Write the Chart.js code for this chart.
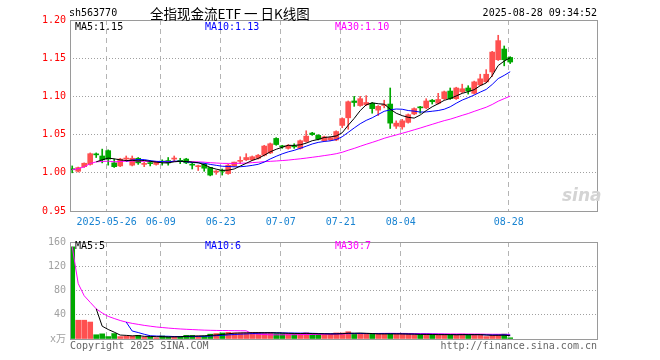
<!DOCTYPE html>
<html>
<head>
<meta charset="utf-8">
<script src="https://cdn.jsdelivr.net/npm/chart.js@4.4.1/dist/chart.umd.min.js"></script>
<style>
  body { margin: 0; width: 660px; height: 360px; background: #fff; position: relative; overflow: hidden; }
  canvas { position: absolute; left: 0; }
  .t { position: absolute; font: 10px/10px "DejaVu Sans Mono", "Noto Sans CJK SC", monospace; white-space: pre; }
</style>
</head>
<body>
<canvas id="kline" width="660" height="232" style="top:0"></canvas>
<canvas id="vol" width="660" height="128" style="top:232px"></canvas>

<div class="t" style="left:69px;top:8px">sh563770</div>
<div class="t" style="left:150px;top:6px;font:13.5px/14px 'Noto Sans CJK SC',sans-serif">全指现金流ETF 一 日K线图</div>
<div class="t" style="right:63px;top:8px">2025-08-28 09:34:52</div>

<div class="t" style="left:75px;top:22px;color:#000">MA5:1.15</div>
<div class="t" style="left:205px;top:22px;color:#0000ff">MA10:1.13</div>
<div class="t" style="left:335px;top:22px;color:#ff00ff">MA30:1.10</div>

<div class="t" style="left:75px;top:241px;color:#000">MA5:5</div>
<div class="t" style="left:205px;top:241px;color:#0000ff">MA10:6</div>
<div class="t" style="left:335px;top:241px;color:#ff00ff">MA30:7</div>

<div class="t" style="left:562px;top:186px;font:italic bold 17px/18px 'DejaVu Sans',sans-serif;color:#d4d4d4">sina</div>

<div class="t" style="left:70px;top:341px;color:#666">Copyright 2025 SINA.COM</div>
<div class="t" style="right:63px;top:341px;color:#666">http://finance.sina.com.cn</div>

<script>
// ---- datos (indice = dia de negociacion, 0 = 2025-05-16) ----
const tickIdx = [6, 15, 25, 35, 45, 55, 73];
const tickLabels = ['2025-05-26', '06-09', '06-23', '07-07', '07-21', '08-04', '08-28'];
const priceTicks = [0.95, 1.00, 1.05, 1.10, 1.15, 1.20];
const volTicks = [0, 40, 80, 120, 160];

const openP = [
  1.005, 1.002, 1.008, 1.011, 1.024, 1.022, 1.029, 1.013, 1.009, 1.018,
  1.010, 1.019, 1.011, 1.013, 1.011, 1.015, 1.016, 1.018, 1.016, 1.018,
  1.011, 1.008, 1.011, 1.007, 1.001, 1.003, 0.999, 1.009, 1.015, 1.017,
  1.017, 1.019, 1.023, 1.026, 1.045, 1.035, 1.032, 1.035, 1.032, 1.041,
  1.052, 1.049, 1.042, 1.043, 1.043, 1.062, 1.072, 1.094, 1.088, 1.089,
  1.091, 1.082, 1.088, 1.090, 1.061, 1.060, 1.066, 1.077, 1.086, 1.085,
  1.095, 1.091, 1.097, 1.107, 1.097, 1.106, 1.111, 1.104, 1.115, 1.119,
  1.132, 1.148, 1.162, 1.151
];
const highP = [
  1.009, 1.0075, 1.013, 1.026, 1.026, 1.031, 1.030, 1.018, 1.019, 1.022,
  1.022, 1.020, 1.014, 1.016, 1.015, 1.017, 1.020, 1.022, 1.019, 1.019,
  1.013, 1.010, 1.012, 1.007, 1.003, 1.005, 1.011, 1.014, 1.021, 1.025,
  1.022, 1.024, 1.036, 1.039, 1.046, 1.036, 1.037, 1.038, 1.043, 1.055,
  1.053, 1.050, 1.048, 1.047, 1.055, 1.072, 1.094, 1.100, 1.100, 1.101,
  1.092, 1.088, 1.095, 1.111, 1.068, 1.070, 1.077, 1.085, 1.087, 1.097,
  1.096, 1.104, 1.107, 1.111, 1.112, 1.116, 1.114, 1.120, 1.129, 1.135,
  1.159, 1.180, 1.166, 1.152
];
const lowP = [
  1.000, 1.001, 1.007, 1.010, 1.020, 1.013, 1.010, 1.007, 1.008, 1.015,
  1.009, 1.011, 1.008, 1.009, 1.010, 1.010, 1.010, 1.015, 1.012, 1.012,
  1.005, 1.003, 1.002, 0.996, 0.998, 0.997, 0.998, 1.008, 1.012, 1.016,
  1.016, 1.018, 1.022, 1.025, 1.036, 1.032, 1.031, 1.032, 1.031, 1.040,
  1.049, 1.043, 1.041, 1.042, 1.042, 1.059, 1.057, 1.087, 1.087, 1.088,
  1.078, 1.075, 1.085, 1.058, 1.058, 1.057, 1.065, 1.076, 1.078, 1.084,
  1.090, 1.090, 1.096, 1.096, 1.096, 1.105, 1.103, 1.103, 1.114, 1.118,
  1.126, 1.147, 1.140, 1.143
];
const closeP = [
  1.004, 1.0068, 1.0125, 1.025, 1.0235, 1.017, 1.018, 1.008, 1.018, 1.019,
  1.019, 1.013, 1.012, 1.012, 1.014, 1.014, 1.013, 1.019, 1.015, 1.013,
  1.010, 1.009, 1.006, 0.997, 1.002, 1.002, 1.010, 1.014, 1.016, 1.020,
  1.021, 1.023, 1.035, 1.038, 1.037, 1.034, 1.036, 1.034, 1.042, 1.048,
  1.050, 1.044, 1.047, 1.046, 1.054, 1.071, 1.093, 1.092, 1.097, 1.092,
  1.084, 1.087, 1.089, 1.065, 1.065, 1.068, 1.076, 1.084, 1.085, 1.094,
  1.093, 1.096, 1.106, 1.097, 1.111, 1.110, 1.107, 1.119, 1.123, 1.129,
  1.158, 1.173, 1.148, 1.145
];
// volumen en 万
const volume = [
  152, 31, 31, 28, 7, 8.5, 4, 9, 4, 4.5,
  4.5, 6, 3, 3.5, 2, 5, 3.5, 4, 4, 6,
  6, 5, 5, 8, 9, 10, 11, 10, 10, 10,
  11, 11, 10, 10, 9, 9, 9, 9, 9, 10,
  8, 8, 8, 8, 10, 10, 12, 8, 9, 8,
  8, 9, 8, 9, 8, 8, 8, 7, 7, 8,
  7, 7, 7, 7, 7, 8, 7, 7, 7, 4,
  6, 7, 8, 2
];

const RED = '#ff5050';
const GREEN = '#00a800';
const FONT = { family: "'DejaVu Sans Mono', 'Noto Sans CJK SC', monospace", size: 10 };

// media movil; MA30 usa los dias disponibles al principio (como sina)
function mediaMovil(src, n, parcial) {
  return src.map((_, i) => {
    if (i < n - 1 && !parcial) return null;
    const win = src.slice(Math.max(0, i - n + 1), i + 1);
    return win.reduce((a, b) => a + b, 0) / win.length;
  });
}

const sube = i => closeP[i] >= openP[i];
const colorVela = ctx => sube(ctx.dataIndex) ? RED : GREEN;
const idx = closeP.map((_, i) => i);

// eje x compartido: 6 px por vela
const X_MIN = -0.367;
const X_MAX = X_MIN + 527 / 6;

function ejeX(conEtiquetas) {
  return {
    type: 'linear',
    min: X_MIN,
    max: X_MAX,
    offset: false,
    bounds: 'data',
    afterFit: s => { s.height = 21; },
    afterBuildTicks: s => { s.ticks = tickIdx.map(i => ({ value: i - 0.25 })); },
    ticks: {
      display: conEtiquetas,
      color: '#1a84d2',
      font: FONT,
      padding: 5,
      maxRotation: 0,
      autoSkip: false,
      callback: (v, k) => tickLabels[k],
    },
    grid: { color: '#b4b4b4', drawTicks: false, offset: false },
    border: { display: false, dash: [5, 4] },
  };
}

const marco = {
  id: 'marco',
  afterDraw(chart) {
    const { ctx, chartArea: a } = chart;
    ctx.save();
    ctx.strokeStyle = '#9a9a9a';
    ctx.lineWidth = 1;
    ctx.setLineDash([]);
    ctx.strokeRect(Math.floor(a.left) + 0.5, Math.floor(a.top) + 0.5,
      Math.round(a.right - a.left), Math.round(a.bottom - a.top));
    ctx.restore();
  },
};

const lineaMA = (data, color) => ({
  type: 'line',
  data: idx.map(i => ({ x: i, y: data[i] })),
  borderColor: color,
  borderWidth: 1,
  pointRadius: 0,
  tension: 0,
  spanGaps: false,
});

const base = {
  responsive: false,
  animation: false,
  devicePixelRatio: 1,
  plugins: { legend: { display: false }, tooltip: { enabled: false } },
  events: [],
};

// ---------- K线 ----------
new Chart(document.getElementById('kline'), {
  type: 'bar',
  data: {
    datasets: [
      lineaMA(mediaMovil(closeP, 5, false), '#000000'),
      lineaMA(mediaMovil(closeP, 10, false), '#0000ff'),
      lineaMA(mediaMovil(closeP, 30, true), '#ff00ff'),
      {
        data: idx.map(i => ({ x: i, y: [openP[i], closeP[i]] })),
        backgroundColor: colorVela,
        barThickness: 5,
        minBarLength: 1,
        grouped: false,
      },
      {
        data: idx.map(i => ({ x: i, y: [lowP[i], highP[i]] })),
        backgroundColor: colorVela,
        barThickness: 1,
        minBarLength: 1,
        grouped: false,
      },
    ],
  },
  options: {
    ...base,
    layout: { padding: { top: 20, right: 63, bottom: 0, left: 0 } },
    scales: {
      x: ejeX(true),
      y: {
        min: 0.95,
        max: 1.20,
        afterFit: s => { s.width = 70; },
        afterBuildTicks: s => { s.ticks = priceTicks.map(v => ({ value: v })); },
        ticks: { color: '#ff0000', font: FONT, padding: 4, callback: v => v.toFixed(2) },
        grid: { color: '#a0a0a0', drawTicks: false },
        border: { display: false, dash: [1, 2] },
      },
    },
  },
  plugins: [marco],
});

// ---------- 成交量 ----------
new Chart(document.getElementById('vol'), {
  type: 'bar',
  data: {
    datasets: [
      lineaMA(mediaMovil(volume, 5, false), '#000000'),
      lineaMA(mediaMovil(volume, 10, false), '#0000ff'),
      lineaMA(mediaMovil(volume, 30, true), '#ff00ff'),
      {
        data: idx.map(i => ({ x: i, y: volume[i] })),
        backgroundColor: colorVela,
        barThickness: 5,
        grouped: false,
      },
    ],
  },
  options: {
    ...base,
    layout: { padding: { top: 9, right: 63, bottom: 0, left: 0 } },
    scales: {
      x: ejeX(false),
      y: {
        min: 0,
        max: 160,
        afterFit: s => { s.width = 70; },
        afterBuildTicks: s => { s.ticks = volTicks.map(v => ({ value: v })); },
        ticks: { color: '#a0a0a0', font: FONT, padding: 4, callback: v => v === 0 ? 'x万' : String(v) },
        grid: { color: '#a0a0a0', drawTicks: false },
        border: { display: false, dash: [1, 2] },
      },
    },
  },
  plugins: [marco],
});
</script>
</body>
</html>
